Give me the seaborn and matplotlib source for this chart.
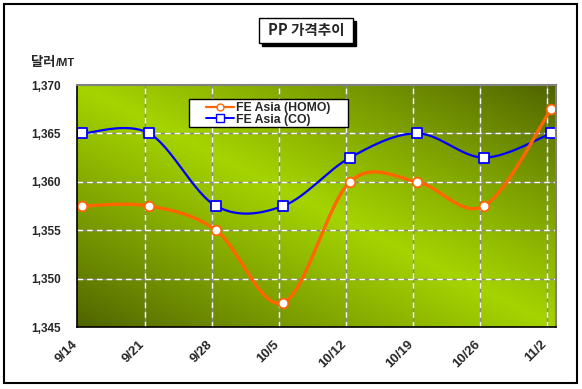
import numpy as np
import pandas as pd
import matplotlib
matplotlib.use("Agg")
import matplotlib.pyplot as plt
import seaborn as sns
from matplotlib.patches import Rectangle
from matplotlib.lines import Line2D
from matplotlib.transforms import ScaledTranslation

# ---- data ----
dates = ["9/14", "9/21", "9/28", "10/5", "10/12", "10/19", "10/26", "11/2"]
homo = [1357.5, 1357.5, 1355.0, 1347.5, 1360.0, 1360.0, 1357.5, 1367.5]
co = [1365.0, 1365.0, 1357.5, 1357.5, 1362.5, 1365.0, 1362.5, 1365.0]
series_names = ["FE Asia (HOMO)", "FE Asia (CO)"]
yticks = [1345, 1350, 1355, 1360, 1365, 1370]

sns.set_theme(style="white")
plt.rcParams['font.family'] = ['Liberation Sans', 'Noto Sans CJK KR', 'DejaVu Sans']

fig = plt.figure(figsize=(5.82, 3.89), dpi=100)
fig.patch.set_facecolor("white")
ax = fig.add_axes([77/582, (389-327)/389, (556-77)/582, (327-85)/389])

x = np.arange(len(dates))
xlim = (-0.075, 7.075)
ylim = (1345, 1370)
ax.set_xlim(*xlim)
ax.set_ylim(*ylim)

# gradient background
nx, ny = 300, 200
gx = np.linspace(0, 1, nx)[None, :]
gy = np.linspace(0, 1, ny)[:, None]
w = 1 - np.abs(gx - gy)
w = np.clip(w, 0, 1) ** 0.9
dark = np.array([78, 98, 0]) / 255
bright = np.array([165, 212, 0]) / 255
img = dark[None, None, :] + (bright - dark)[None, None, :] * w[:, :, None]
ax.imshow(img, extent=(xlim[0], xlim[1], ylim[0], ylim[1]), origin="upper",
          aspect="auto", zorder=0)


def smooth(xs, ys, n=30):
    P = np.column_stack([xs, ys]).astype(float)
    m = len(P)
    out = []
    for i in range(m - 1):
        p0 = P[max(i - 1, 0)]
        p1 = P[i]
        p2 = P[i + 1]
        p3 = P[min(i + 2, m - 1)]
        b1 = p1 + (p2 - p0) / 6
        b2 = p2 - (p3 - p1) / 6
        t = np.linspace(0, 1, n)[:, None]
        seg = ((1 - t) ** 3) * p1 + 3 * ((1 - t) ** 2) * t * b1 + 3 * (1 - t) * t ** 2 * b2 + t ** 3 * p2
        out.append(seg if i == 0 else seg[1:])
    return np.vstack(out)

# gridlines
for yv in yticks[1:-1]:
    ax.axhline(yv, color="#8a8a8a", lw=1.0, zorder=1)
    ax.axhline(yv, color="white", lw=1.0, ls=(0, (4, 3)), zorder=1.1)
for i in range(1, len(dates)):
    ax.axvline(i - 0.06, color="#8a8a8a", lw=1.0, zorder=1)
    ax.axvline(i - 0.06, color="white", lw=1.0, ls=(0, (4, 3)), zorder=1.1)

orange = "#FF6600"
blue = "#0000FF"
for vals, col, lw in [(co, blue, 1.6), (homo, orange, 2.4)]:
    c = smooth(x, vals)
    df = pd.DataFrame({"x": c[:, 0], "y": c[:, 1]})
    sns.lineplot(data=df, x="x", y="y", sort=False, estimator=None, color=col,
                 lw=lw, ax=ax, zorder=3)

sns.scatterplot(x=x, y=co, marker="s", s=42, facecolor="white", edgecolor=blue,
                linewidth=1.3, ax=ax, zorder=4)
sns.scatterplot(x=x, y=homo, marker="o", s=48, facecolor="white", edgecolor=orange,
                linewidth=1.3, ax=ax, zorder=4)

# axes styling
ax.set_xlabel("")
ax.set_ylabel("")
ax.set_xticks(x)
ax.set_xticklabels(dates, rotation=45, ha="right", va="center",
                   rotation_mode="anchor", fontsize=9.5, fontweight="bold")
ax.set_yticks(yticks)
ax.set_yticklabels([f"{v:,}" for v in yticks], fontsize=8.5, fontweight="bold")
ax.tick_params(axis="x", length=0, pad=11)
ax.tick_params(axis="y", length=0, pad=11.5)
for lab in ax.get_xticklabels():
    lab.set_transform(lab.get_transform() + ScaledTranslation(-0.06, 0, fig.dpi_scale_trans))
for s in ["top", "right"]:
    ax.spines[s].set_color("#808080")
    ax.spines[s].set_linewidth(1.5)
for s in ["left", "bottom"]:
    ax.spines[s].set_color("black")
    ax.spines[s].set_linewidth(1.2)
for s in ax.spines.values():
    s.set_zorder(5)

# legend: white box drawn separately, one entry per row
fig.patches.append(Rectangle((189/582, (389-127)/389), 159/582, 28/389,
                             transform=fig.transFigure, facecolor="white",
                             edgecolor="black", lw=1.0, zorder=3))
handles = [
    Line2D([], [], color=orange, lw=1.6, marker="o", markersize=5,
           markerfacecolor="white", markeredgecolor=orange),
    Line2D([], [], color=blue, lw=1.4, marker="s", markersize=5.5,
           markerfacecolor="white", markeredgecolor=blue),
]
for h, name, yc in zip(handles, series_names, [108.5, 119.5]):
    lg = fig.legend([h], [name], loc="center left",
                    bbox_to_anchor=(206/582, 1 - yc/389), borderaxespad=0,
                    frameon=False, handlelength=2.3, handletextpad=0.15,
                    borderpad=0.0,
                    prop={"family": "Liberation Sans", "size": 8.8, "weight": "bold"})
    lg.set_zorder(6)

# title box with shadow
bx0, by0, bw, bh = 259/582, (389-43)/389, 94/582, 25/389
fig.patches.append(Rectangle((bx0 + 3/582, by0 - 3/389), bw, bh, transform=fig.transFigure,
                             facecolor="black", edgecolor="black", zorder=1))
fig.patches.append(Rectangle((bx0, by0), bw, bh, transform=fig.transFigure,
                             facecolor="white", edgecolor="black", lw=1.0, zorder=2))
fig.text(bx0 + bw/2, by0 + bh/2, "PP 가격추이", ha="center", va="center",
         fontsize=10.5, fontweight="bold", family=["Noto Sans CJK KR", "DejaVu Sans"], zorder=3)

# y unit label
fig.text(31/582, 1 - 62/389, "달러", ha="left", va="center", fontsize=9.5,
         fontweight="bold", family=["Noto Sans CJK KR", "DejaVu Sans"])
fig.text(56/582, 1 - 63.5/389, "/MT", ha="left", va="center", fontsize=8,
         fontweight="bold", family=["Liberation Sans", "DejaVu Sans"])

# outer border
fig.patches.append(Rectangle((4/582, 6/389), 573/582, 379/389, transform=fig.transFigure,
                             facecolor="none", edgecolor="black", lw=1.5, zorder=0))

fig.savefig("out.png", dpi=100)
